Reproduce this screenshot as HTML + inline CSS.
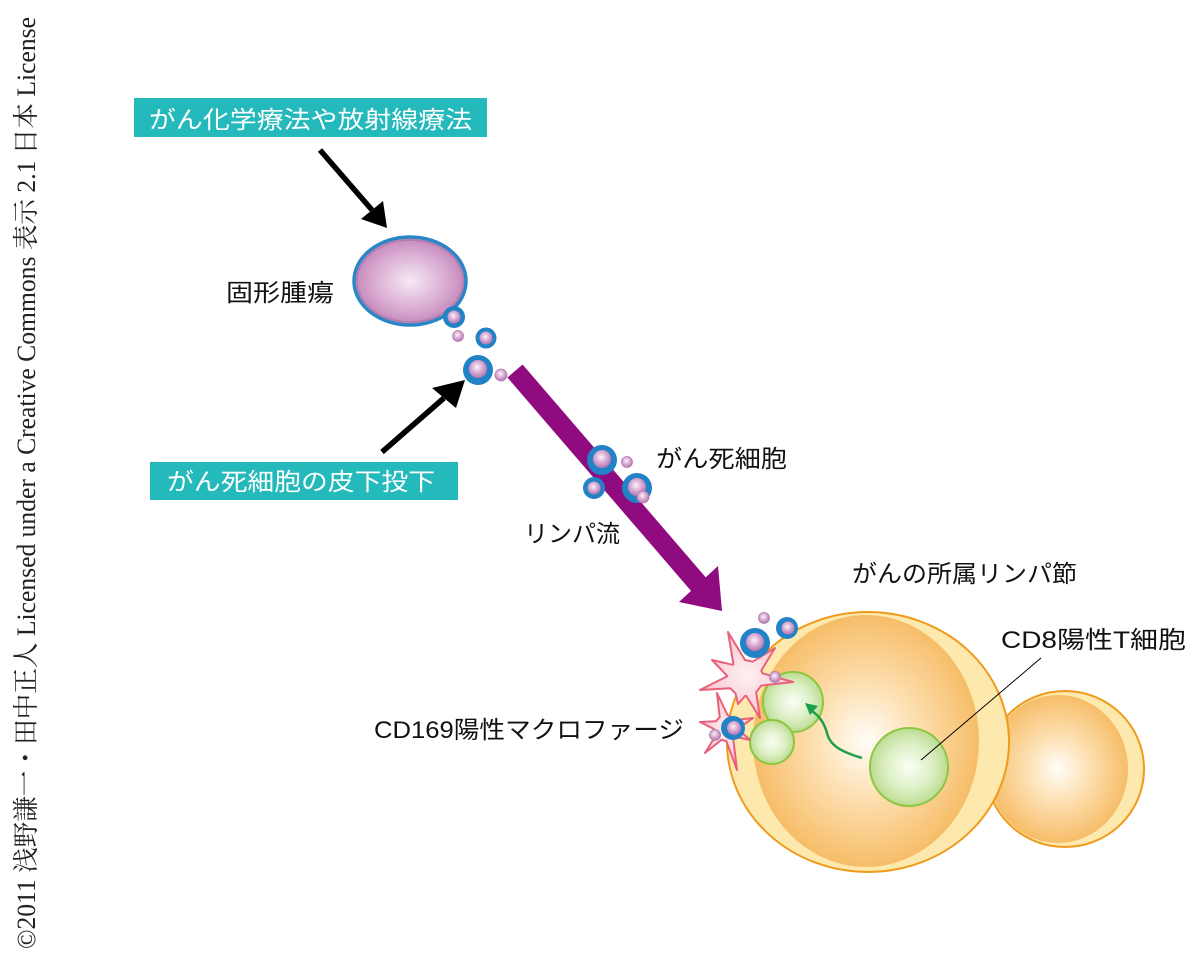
<!DOCTYPE html>
<html><head><meta charset="utf-8">
<style>
html,body{margin:0;padding:0;background:#fff;}
svg{display:block;}
.jp{font-family:"Liberation Sans","Noto Sans CJK JP",sans-serif;font-size:24px;fill:#111;}
.wh{font-family:"Liberation Sans","Noto Sans CJK JP",sans-serif;font-size:24px;fill:#fff;}
</style></head>
<body>
<svg width="1200" height="963" viewBox="0 0 1200 963" xmlns="http://www.w3.org/2000/svg">
<defs>
<radialGradient id="tum" cx="0.5" cy="0.5" r="0.5">
<stop offset="0" stop-color="#f6e9f4"/><stop offset="0.65" stop-color="#d9abd2"/><stop offset="1" stop-color="#c287b9"/>
</radialGradient>
<radialGradient id="pk" cx="0.45" cy="0.4" r="0.6">
<stop offset="0" stop-color="#fbf3fa"/><stop offset="0.6" stop-color="#d3a2cf"/><stop offset="1" stop-color="#b477b0"/>
</radialGradient>
<radialGradient id="grn" cx="0.5" cy="0.5" r="0.5">
<stop offset="0" stop-color="#fbfef6"/><stop offset="0.6" stop-color="#dcefc4"/><stop offset="1" stop-color="#bcdc92"/>
</radialGradient>
<radialGradient id="org" cx="0.5" cy="0.5" r="0.5">
<stop offset="0" stop-color="#fffdf8"/><stop offset="0.45" stop-color="#fde0b2"/><stop offset="1" stop-color="#f6bd68"/>
</radialGradient>
<radialGradient id="mac" cx="0.5" cy="0.5" r="0.5">
<stop offset="0" stop-color="#fdf0f2"/><stop offset="1" stop-color="#f8c6cf"/>
</radialGradient>
</defs>

<!-- copyright vertical -->
<text transform="translate(35,949) rotate(-90)" textLength="932" lengthAdjust="spacingAndGlyphs" style="font-family:'Liberation Serif','Noto Serif CJK SC',serif;font-size:26px;fill:#222;">©2011 浅野謙一・田中正人 Licensed under a Creative Commons 表示 2.1 日本 License</text>

<!-- teal boxes -->
<rect x="134" y="98" width="353" height="39" fill="#24b9bb"/>
<text x="149" y="128" class="wh" textLength="323" lengthAdjust="spacingAndGlyphs">がん化学療法や放射線療法</text>
<rect x="150" y="462" width="308" height="38" fill="#24b9bb"/>
<text x="167" y="490" class="wh" textLength="268" lengthAdjust="spacingAndGlyphs">がん死細胞の皮下投下</text>

<!-- black arrows -->
<line x1="320" y1="150" x2="372" y2="210" stroke="#000" stroke-width="5.5"/>
<polygon points="361,219 383,201 387,228" fill="#000"/>
<line x1="382" y1="452" x2="444" y2="398" stroke="#000" stroke-width="5.5"/>
<polygon points="432,388 456,408 465,380" fill="#000"/>

<!-- tumor -->
<ellipse cx="410" cy="281" rx="56" ry="44" fill="url(#tum)" stroke="#2b86c6" stroke-width="3.5"/>
<ellipse cx="410" cy="281" rx="53" ry="41" fill="none" stroke="#b57aae" stroke-width="1.5"/>
<text x="226" y="301" class="jp" textLength="108" lengthAdjust="spacingAndGlyphs">固形腫瘍</text>

<!-- tumor cells -->
<circle cx="454" cy="317" r="11" fill="#2182c6"/><circle cx="454" cy="317" r="6.5" fill="url(#pk)"/>
<circle cx="458" cy="336" r="5.5" fill="url(#pk)" stroke="#b27ab0" stroke-width="0.8"/>
<circle cx="486" cy="338" r="10.5" fill="#2182c6"/><circle cx="486" cy="338" r="6.5" fill="url(#pk)"/>
<circle cx="478" cy="370" r="15" fill="#2182c6"/><circle cx="478" cy="369" r="9" fill="url(#pk)"/>
<circle cx="501" cy="375" r="6" fill="url(#pk)" stroke="#b27ab0" stroke-width="0.8"/>

<!-- purple arrow -->
<line x1="515" y1="371" x2="700" y2="586" stroke="#8f0b7f" stroke-width="20"/>
<polygon points="679,602 718,566 722,611" fill="#8f0b7f"/>

<!-- cells on arrow -->
<circle cx="602" cy="460" r="15" fill="#2182c6"/><circle cx="602" cy="459" r="9" fill="url(#pk)"/>
<circle cx="627" cy="462" r="5.5" fill="url(#pk)" stroke="#b27ab0" stroke-width="0.8"/>
<circle cx="594" cy="488" r="11" fill="#2182c6"/><circle cx="594" cy="488" r="6.5" fill="url(#pk)"/>
<circle cx="637" cy="488" r="15" fill="#2182c6"/><circle cx="637" cy="487" r="9" fill="url(#pk)"/>
<circle cx="643" cy="497" r="6" fill="url(#pk)" stroke="#b27ab0" stroke-width="0.8"/>

<text x="656" y="467" class="jp" textLength="131" lengthAdjust="spacingAndGlyphs">がん死細胞</text>
<text x="524" y="542" class="jp" textLength="96" lengthAdjust="spacingAndGlyphs">リンパ流</text>
<text x="852" y="582" class="jp" textLength="225" lengthAdjust="spacingAndGlyphs">がんの所属リンパ節</text>

<!-- lymph nodes -->
<ellipse cx="1065" cy="769" rx="79" ry="78" fill="#fde9ad" stroke="#f09a1c" stroke-width="2"/>
<ellipse cx="1058" cy="769" rx="70" ry="74" fill="url(#org)"/>
<ellipse cx="868" cy="742" rx="141" ry="130" fill="#fde9ad" stroke="#f09a1c" stroke-width="2"/>
<ellipse cx="866" cy="741" rx="113" ry="126" fill="url(#org)"/>

<!-- green T cells -->
<circle cx="909" cy="767" r="39" fill="url(#grn)" stroke="#8dc63f" stroke-width="2"/>
<circle cx="793" cy="702" r="30" fill="url(#grn)" stroke="#8dc63f" stroke-width="2"/>
<circle cx="772" cy="742" r="22" fill="url(#grn)" stroke="#8dc63f" stroke-width="2"/>

<!-- green arrow -->
<path d="M862,758 C842,752 830,746 827,733 C824,722 819,716 812,711" fill="none" stroke="#1ba049" stroke-width="2.5"/>
<polygon points="805,703 818,706 810,715" fill="#1ba049"/>

<!-- CD8 connector -->
<line x1="1041" y1="658" x2="921" y2="760" stroke="#000" stroke-width="1"/>
<text x="1001" y="648" class="jp" textLength="185" lengthAdjust="spacingAndGlyphs">CD8陽性T細胞</text>

<!-- macrophages -->
<path d="M727.1,675.8 L712,660 L732.7,664.8 L733.4,664.2 L728,632 L745,660 L752.6,661.7 L775,648 L761.3,670.4 L762.4,673.3 L793,682 L761.3,685.6 L756.1,692.2 L760,718 L746.3,696 L745,696 L738,704 L735.5,693.3 L730.3,688.3 L700,690 L727.1,676.4 Z" fill="url(#mac)" stroke="#e8607a" stroke-width="2" stroke-linejoin="round"/>
<path d="M714.1,729.1 L700,722 L715.9,721.3 L719.7,717.2 L717,693 L727.5,715 L737.1,719.8 L753,718 L740,727.3 L739.7,730.7 L750,740 L736.4,737 L733.3,739.4 L737,770 L726.3,741 L721.5,739.8 L705,753 L716.1,735.1 Z" fill="url(#mac)" stroke="#e8607a" stroke-width="2" stroke-linejoin="round"/>

<!-- cells near macrophages -->
<circle cx="764" cy="618" r="5.5" fill="url(#pk)" stroke="#b27ab0" stroke-width="0.8"/>
<circle cx="755" cy="643" r="15" fill="#2182c6"/><circle cx="755" cy="642" r="9" fill="url(#pk)"/>
<circle cx="787" cy="628" r="11" fill="#2182c6"/><circle cx="788" cy="628" r="6.5" fill="url(#pk)"/>
<circle cx="775" cy="677" r="5.5" fill="url(#pk)" stroke="#b27ab0" stroke-width="0.8"/>
<circle cx="733" cy="728" r="12" fill="#2182c6"/><circle cx="734" cy="728" r="7" fill="url(#pk)"/>
<circle cx="715" cy="735" r="5.5" fill="url(#pk)" stroke="#b27ab0" stroke-width="0.8"/>

<text x="374" y="738" class="jp" textLength="310" lengthAdjust="spacingAndGlyphs">CD169陽性マクロファージ</text>
</svg>
</body></html>
